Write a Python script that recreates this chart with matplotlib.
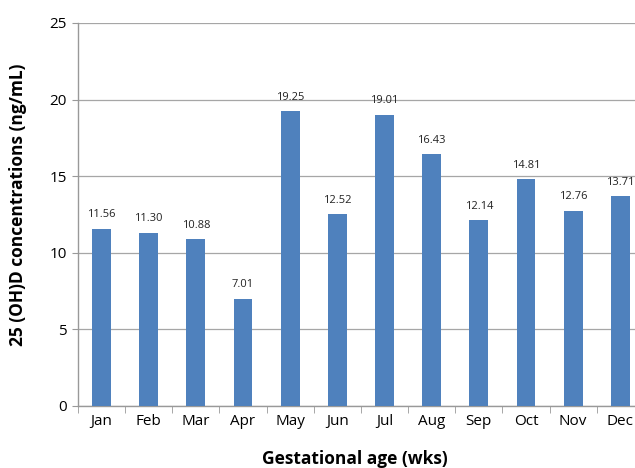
import matplotlib.pyplot as plt
import numpy as np

months = ["Jan", "Feb", "Mar", "Apr", "May", "Jun",
          "Jul", "Aug", "Sep", "Oct", "Nov", "Dec"]
concentrations = [11.56, 11.30, 10.88, 7.01, 19.25, 12.52,
                  19.01, 16.43, 12.14, 14.81, 12.76, 13.71]
y_ticks = [0, 5, 10, 15, 20, 25]

plt.rcParams["font.family"] = ["Open Sans", "DejaVu Sans"]

fig = plt.figure(figsize=(6.35, 4.68), dpi=100)
ax = fig.add_axes([0.1228, 0.1325, 0.8912, 0.8184])

x = np.arange(len(months))
ax.bar(x, concentrations, width=0.4, color="#4F81BD", zorder=3)
for i, v in enumerate(concentrations):
    ax.text(i, v + 0.55, f"{v:.2f}", ha="center", va="bottom", fontsize=8, color="#222222")

ax.set_xlim(-0.5, len(months) - 0.5)
ax.set_ylim(0, 25)
ax.set_yticks(y_ticks)
ax.tick_params(axis="y", length=4, color="#999999", labelsize=11, pad=4)
ax.set_xticks(x)
ax.set_xticklabels(months, fontsize=11)
ax.tick_params(axis="x", length=0, pad=6)
# separators between month categories
ax.set_xticks(np.arange(-0.5, len(months), 1), minor=True)
ax.tick_params(axis="x", which="minor", length=5, color="#999999")

ax.grid(axis="y", color="#A6A6A6", linewidth=0.9, zorder=0)
for side in ["top", "right"]:
    ax.spines[side].set_visible(False)
for side in ["left", "bottom"]:
    ax.spines[side].set_color("#999999")
    ax.spines[side].set_linewidth(1.0)

ax.set_ylabel("25 (OH)D concentrations (ng/mL)", fontsize=12.5, fontweight="bold")
ax.yaxis.set_label_coords(-0.09, 0.525)
ax.set_xlabel("Gestational age (wks)", fontsize=12.5, fontweight="bold")
ax.xaxis.set_label_coords(0.49, -0.115)

fig.savefig("out.png", dpi=100)
